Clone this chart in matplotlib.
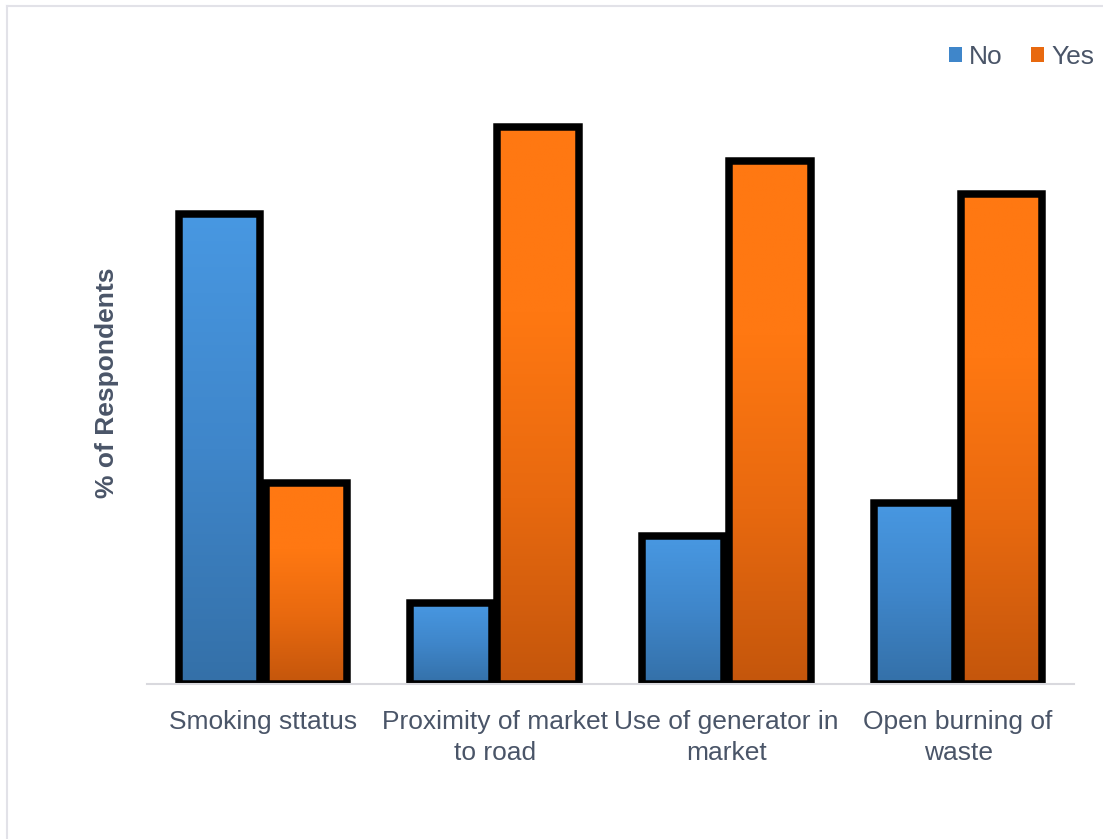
import numpy as np
import matplotlib
matplotlib.use("Agg")
import matplotlib.pyplot as plt
from matplotlib.colors import LinearSegmentedColormap
from matplotlib.patches import Rectangle
from matplotlib.lines import Line2D

# Survey results (% of respondents)
categories = ["Smoking sttatus", "Proximity of market\nto road",
              "Use of generator in\nmarket", "Open burning of\nwaste"]
series_names = ["No", "Yes"]
no_values = [70, 12, 22, 27]
yes_values = [30, 83, 78, 73]

TEXT = "#4A5568"
FONT = ["Liberation Sans", "DejaVu Sans"]
plt.rcParams["font.family"] = FONT

W, H, DPI = 1103, 839, 100
fig = plt.figure(figsize=(W / DPI, H / DPI), dpi=DPI)
fig.patch.set_facecolor("white")

ax = fig.add_axes([147 / W, (H - 684) / H, (1074 - 147) / W, 604 / H])
ax.set_xlim(-0.5, 3.5)
ax.set_ylim(0, 90)

gradients = {
    "No": LinearSegmentedColormap.from_list("no", ["#3470A8", "#3F86CA", "#4898E2"]),
    "Yes": LinearSegmentedColormap.from_list("yes", ["#C4560C", "#E8690F", "#FF7812", "#FF7812"]),
}
legend_colors = {"No": "#3F86CA", "Yes": "#E8690F"}

bar_w = 0.352
offsets = [-0.188, 0.188]
x = np.arange(len(categories))
grad = np.linspace(0, 1, 256).reshape(-1, 1)

for name, vals, off in zip(series_names, [no_values, yes_values], offsets):
    bars = ax.bar(x + off, vals, width=bar_w, facecolor="none",
                  edgecolor="black", linewidth=5.4, zorder=3)
    for b in bars:
        x0, w, h = b.get_x(), b.get_width(), b.get_height()
        im = ax.imshow(grad, cmap=gradients[name], origin="lower", aspect="auto",
                       extent=(x0, x0 + w, 0, h), zorder=2, interpolation="bilinear")
        im.set_clip_path(b)

ax.set_xlim(-0.5, 3.5)
ax.set_ylim(0, 90)

# Category axis line only
for s in ["top", "right", "left"]:
    ax.spines[s].set_visible(False)
ax.spines["bottom"].set_color("#D9D9DE")
ax.spines["bottom"].set_linewidth(1.5)
ax.spines["bottom"].set_zorder(4)
ax.set_yticks([])
ax.set_xticks(x)
ax.set_xticklabels(categories, fontsize=19, color=TEXT, linespacing=1.35)
ax.tick_params(axis="x", length=0, pad=19)

fig.text(107 / W, 1 - 383 / H, "% of Respondents", rotation=90, fontsize=19,
         fontweight="bold", color=TEXT, ha="center", va="center")

handles = [Rectangle((0, 0), 1, 1, facecolor=legend_colors[n], edgecolor="none")
           for n in series_names]
leg = fig.legend(handles, series_names, loc="center right",
                 bbox_to_anchor=(1094 / W, 1 - 57 / H), ncol=2, frameon=False,
                 fontsize=19, handlelength=0.5, handleheight=0.5,
                 handletextpad=0.25, columnspacing=1.1, borderpad=0,
                 borderaxespad=0)
for t in leg.get_texts():
    t.set_color(TEXT)

# Thin light frame along the top and left edges
fig.add_artist(Line2D([7 / W, 7 / W], [0, 1 - 6 / H], transform=fig.transFigure,
                      color="#E2E2E8", linewidth=1.5))
fig.add_artist(Line2D([7 / W, 1], [1 - 6 / H, 1 - 6 / H], transform=fig.transFigure,
                      color="#E2E2E8", linewidth=1.5))

fig.savefig("out.png", dpi=DPI, facecolor="white")
